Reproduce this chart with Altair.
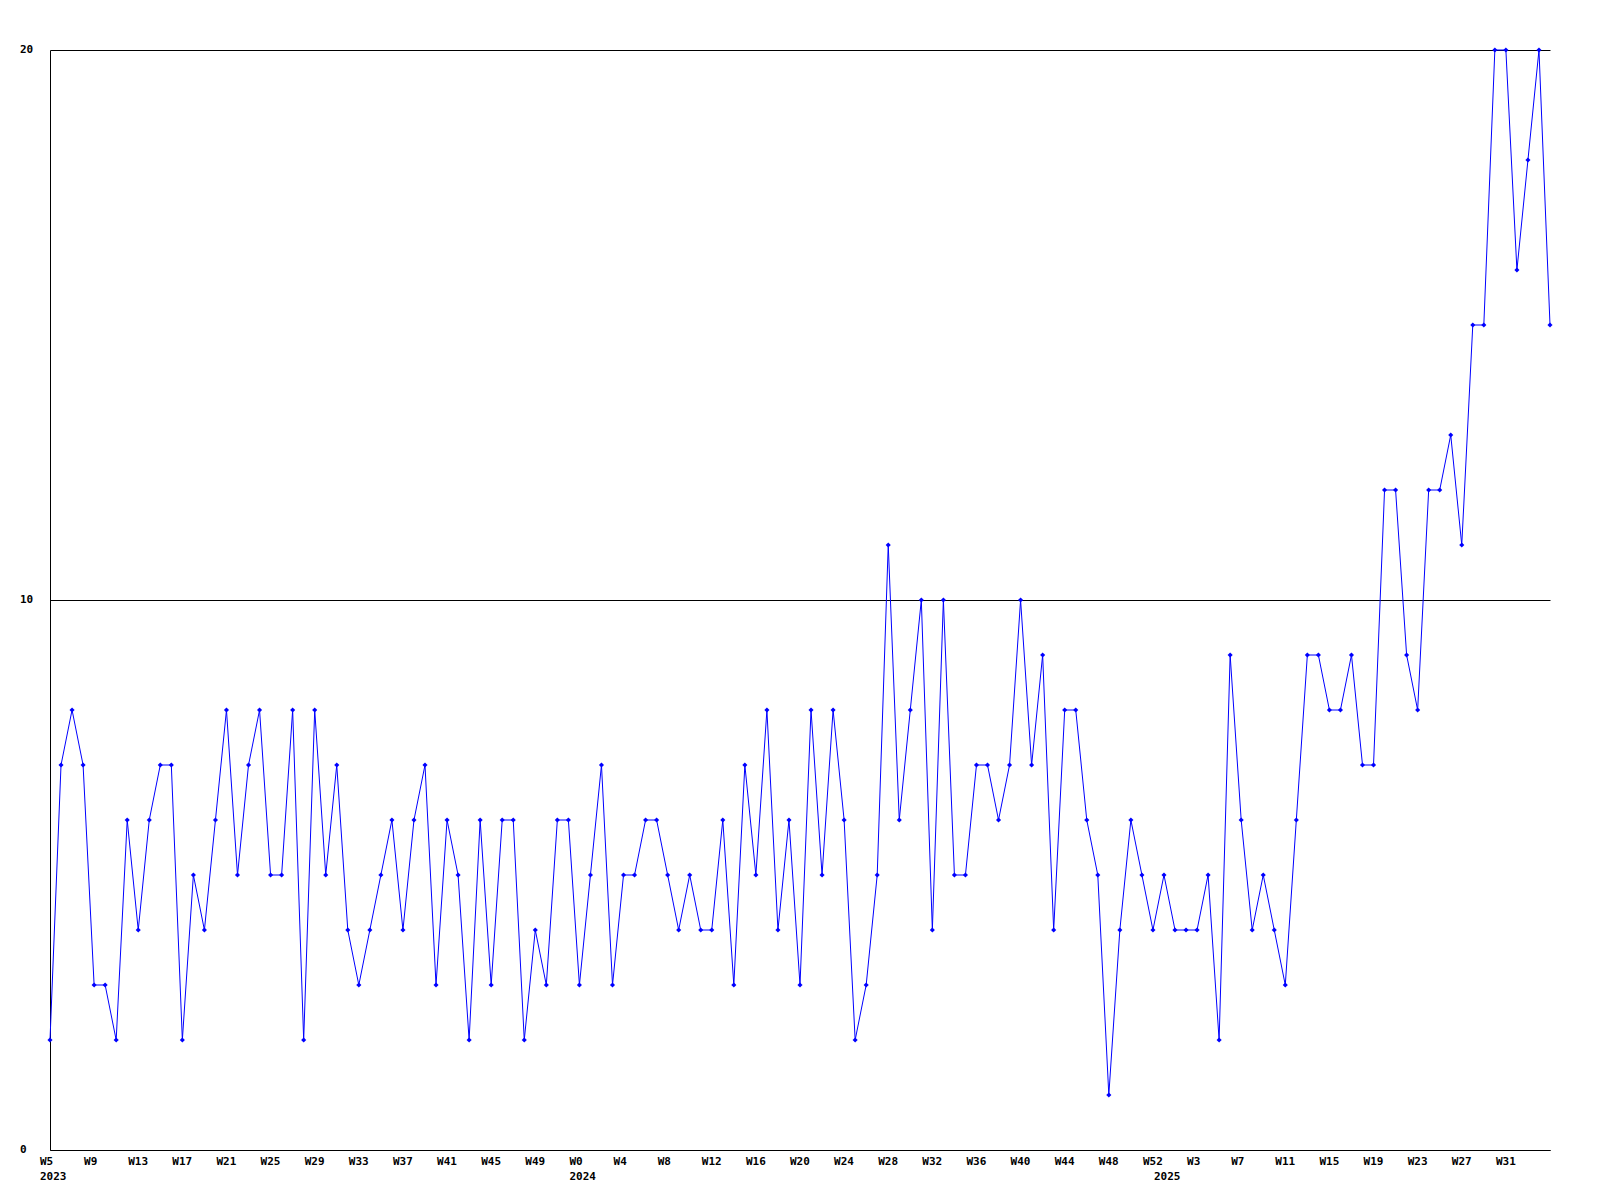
import altair as alt
import pandas as pd

# weekly counts, 2023 W5 .. 2025 W35
values = [
    2, 7, 8, 7, 3, 3, 2, 6, 4, 6, 7, 7, 2, 5, 4, 6, 8,
    5, 7, 8, 5, 5, 8, 2, 8, 5, 7, 4, 3, 4, 5, 6, 4,
    6, 7, 3, 6, 5, 2, 6, 3, 6, 6, 2, 4, 3, 6, 6, 3,
    5, 7, 3, 5, 5, 6, 6, 5, 4, 5, 4, 4, 6, 3, 7, 5, 8,
    4, 6, 3, 8, 5, 8, 6, 2, 3, 5, 11, 6, 8, 10, 4, 10,
    5, 5, 7, 7, 6, 7, 10, 7, 9, 4, 8, 8, 6, 5, 1, 4, 6,
    5, 4, 5, 4, 4, 4, 5, 2, 9, 6, 4, 5, 4, 3, 6, 9,
    9, 8, 8, 9, 7, 7, 12, 12, 9, 8, 12, 12, 13, 11, 15, 15, 20, 20, 16, 18, 20, 15,
]
week_labels = (
    [f"W{w}" for w in range(5, 53)]      # 2023
    + [f"W{w}" for w in range(0, 53)]    # 2024
    + [f"W{w}" for w in range(0, 36)]    # 2025
)
year_labels = ["2023", "2024", "2025"]
year_index = [0, 48, 101]
tick_step = 4
y_ticks = [0, 10, 20]

df = pd.DataFrame({"i": list(range(len(values))), "v": values, "w": week_labels[:len(values)]})
ticks_df = df[(df["i"] % tick_step == 0) & (df["i"] < len(values) - 1)]
years_df = pd.DataFrame({"i": year_index, "t": year_labels})
yt_df = pd.DataFrame({"v": y_ticks, "t": [str(v) for v in y_ticks]})

W, H = 1500, 1100
FONT = "DejaVu Sans Mono"

x = alt.X("i:Q", scale=alt.Scale(domain=[0, len(values) - 1], nice=False, zero=False),
          axis=alt.Axis(labels=False, ticks=False, grid=False, domainColor="black",
                        domainWidth=1, title=None))
y = alt.Y("v:Q", scale=alt.Scale(domain=[0, 20], nice=False),
          axis=alt.Axis(values=y_ticks, labels=False, ticks=False, grid=True,
                        gridColor="black", gridOpacity=1, gridWidth=1,
                        domainColor="black", domainWidth=1, title=None))

line = alt.Chart(df).mark_line(color="#0000ff", strokeWidth=1).encode(x=x, y=y)
pts = alt.Chart(df).mark_point(shape="diamond", filled=True, size=26, color="#0000ff",
                               opacity=1).encode(x="i:Q", y="v:Q")

wk = alt.Chart(ticks_df).mark_text(font=FONT, fontWeight="bold", fontSize=11, align="left",
                                   baseline="middle", dx=-10, color="black").encode(
    x="i:Q", y=alt.value(H + 12), text="w:N")
yr = alt.Chart(years_df).mark_text(font=FONT, fontWeight="bold", fontSize=11, align="left",
                                   baseline="middle", dx=-10, color="black").encode(
    x="i:Q", y=alt.value(H + 27), text="t:N")
yl = alt.Chart(yt_df).mark_text(font=FONT, fontWeight="bold", fontSize=11, align="left",
                                baseline="middle", color="black").encode(
    x=alt.value(-30), y="v:Q", text="t:N")

chart = alt.layer(line, pts, wk, yr, yl).properties(
    width=W, height=H,
    autosize=alt.AutoSizeParams(type="none"),
    padding={"left": 42, "top": 42, "right": 42, "bottom": 42},
    background="white",
).configure_view(stroke=None)

chart.save("out.html", embed_options={"renderer": "svg", "actions": False})
